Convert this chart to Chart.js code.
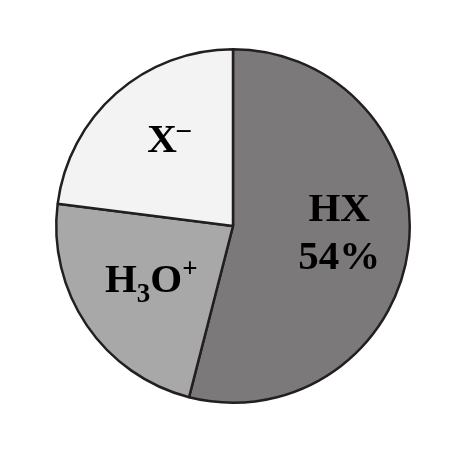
<!DOCTYPE html>
<html>
<head>
  <meta charset="UTF-8">
  <title>HX dissociation</title>
  <script src="https://cdn.jsdelivr.net/npm/chart.js"></script>
  <style>
    body { margin: 0; background: #fff; }
    #wrap { width: 475px; height: 463px; }
  </style>
</head>
<body>
  <div id="wrap"><canvas id="pie" width="475" height="463"></canvas></div>
  <script>
    // species and their share of the solution (%)
    const species = ['HX', 'H3O+', 'X-'];
    const shares = [54, 23, 23];
    const sliceColors = ['#7b797a', '#a8a8a8', '#f3f3f3'];

    // rich text pieces for each label (sub / sup)
    const labelParts = [
      [[{ t: 'HX' }], [{ t: '54%' }]],
      [[{ t: 'H' }, { t: '3', sub: true }, { t: 'O' }, { t: '+', sup: true }]],
      [[{ t: 'X' }, { t: '\u2013', sup: true }]]
    ];

    const FONT = '"Liberation Serif", "Times New Roman", serif';
    // small hand nudges so labels sit where the original had them
    const nudge = [[1, -8], [6, -7], [6, -8]];

    function drawLine(ctx, parts, cx, baseline) {
      const big = 'bold 41px ' + FONT;
      const small = 'bold 27px ' + FONT;
      let w = 0;
      parts.forEach(p => {
        ctx.font = (p.sub || p.sup) ? small : big;
        w += ctx.measureText(p.t).width;
      });
      let x = cx - w / 2;
      parts.forEach(p => {
        ctx.font = (p.sub || p.sup) ? small : big;
        let y = baseline;
        if (p.sub) y += 10;
        if (p.sup) y -= 15;
        ctx.fillText(p.t, x, y);
        x += ctx.measureText(p.t).width;
      });
    }

    const labelPlugin = {
      id: 'sliceLabels',
      afterDatasetsDraw(chart) {
        const ctx = chart.ctx;
        const meta = chart.getDatasetMeta(0);
        ctx.save();
        ctx.fillStyle = '#000';
        ctx.textAlign = 'left';
        ctx.textBaseline = 'alphabetic';
        meta.data.forEach((arc, i) => {
          const mid = (arc.startAngle + arc.endAngle) / 2;
          const r = arc.outerRadius * 0.6;
          const cx = arc.x + Math.cos(mid) * r + nudge[i][0];
          const cy = arc.y + Math.sin(mid) * r + nudge[i][1];
          const lines = labelParts[i];
          const lh = 48;
          const top = cy - ((lines.length - 1) * lh + 27) / 2;
          lines.forEach((ln, k) => drawLine(ctx, ln, cx, top + 27 + k * lh));
        });
        ctx.restore();
      }
    };

    new Chart(document.getElementById('pie'), {
      type: 'pie',
      data: {
        labels: species,
        datasets: [{
          data: shares,
          backgroundColor: sliceColors,
          borderColor: '#231f20',
          borderWidth: 2.5,
          borderAlign: 'center'
        }]
      },
      options: {
        responsive: false,
        animation: false,
        layout: { padding: { left: 55, right: 64, top: 48, bottom: 59 } },
        plugins: {
          legend: { display: false },
          tooltip: { enabled: false }
        }
      },
      plugins: [labelPlugin]
    });
  </script>
</body>
</html>
